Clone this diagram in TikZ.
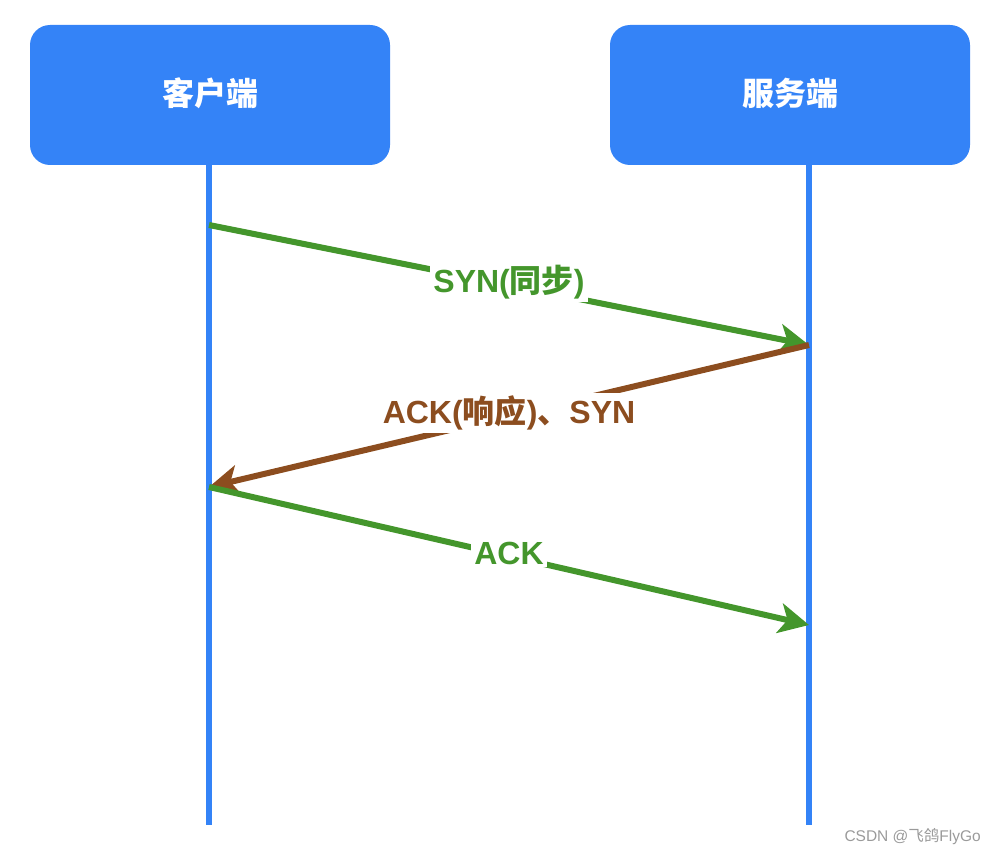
\documentclass[tikz,border=0pt]{standalone}
\usepackage{fontspec}
\setmainfont{Liberation Sans}
\newfontfamily\cjk{Noto Sans CJK SC}
\usetikzlibrary{arrows.meta}
\definecolor{lblue}{HTML}{3483F7}
\definecolor{mgreen}{HTML}{44962C}
\definecolor{mbrown}{HTML}{8C4D1F}
\definecolor{wmgray}{HTML}{9A9A9A}
\tikzset{
  actor/.style={draw=none, fill=lblue, rounded corners=20pt, minimum width=360pt, minimum height=140pt,
    text=white, font=\fontsize{32}{32}\selectfont\cjk\bfseries, inner sep=0pt},
  lifeline/.style={draw=lblue, line width=6pt},
  msg/.style={line width=6pt, -{Stealth[length=30pt, width=30pt, inset=8pt]}},
  msglabel/.style={fill=white, inner sep=3pt, yshift=3pt, font=\fontsize{32}{32}\selectfont\bfseries},
}
\begin{document}
\begin{tikzpicture}[x=1pt, y=-1pt]
\useasboundingbox (0,0) rectangle (996,856);
\node[actor] (c) at (210,95) {\raisebox{6pt}{客户端}};
\node[actor] (s) at (790,95) {\raisebox{6pt}{服务端}};
\coordinate (cb) at (209,825);
\coordinate (sb) at (809,825);
\draw[lifeline] (209,165) -- (cb);
\draw[lifeline] (809,165) -- (sb);
\coordinate (c1) at (209,225);
\coordinate (s1) at (809,345);
\coordinate (c2) at (209,487);
\coordinate (s2) at (809,625);
\draw[msg, draw=mgreen, fill=mgreen] (c1) -- (s1) node[pos=0.5, msglabel, text=mgreen] (l1) {SYN({\cjk\bfseries 同步})};
\draw[msg, draw=mbrown, fill=mbrown] (s1) -- (c2) node[pos=0.5, msglabel, text=mbrown] (l2) {ACK({\cjk\bfseries 响应}){\cjk\bfseries 、}SYN};
\draw[msg, draw=mgreen, fill=mgreen] (c2) -- (s2) node[pos=0.5, msglabel, text=mgreen] (l3) {ACK};
\node[text=wmgray, font=\fontsize{15.5}{15.5}\selectfont, anchor=east, inner sep=0pt] (wm) at (981,837) {CSDN @{\cjk 飞鸽}FlyGo};
\end{tikzpicture}
\end{document}
